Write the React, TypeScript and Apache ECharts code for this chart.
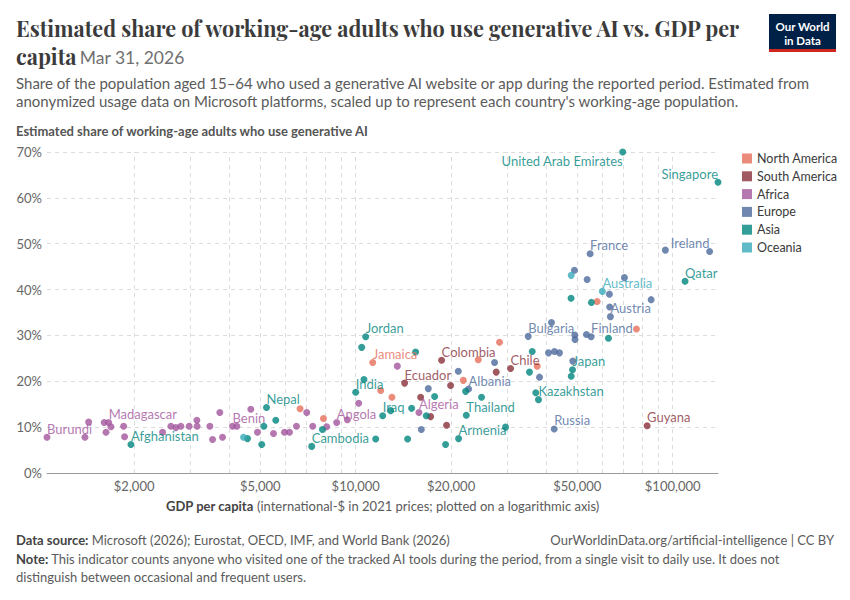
import React, { useEffect, useRef } from "react";
import * as echarts from "echarts";

// ---------- data ----------
const continents = ["North America", "South America", "Africa", "Europe", "Asia", "Oceania"];
const continentColors = ["#E56E5A", "#883039", "#A2559C", "#4C6A9C", "#00847E", "#38AABA"];

const northAmericaNames = ["", "", "Jamaica", "", "", "", "", "", "", "", ""];
const northAmericaGdp = [6675, 7911, 11314, 11990, 13015, 21849, 24361, 28429, 37379, 57779, 76850];
const northAmericaShare = [14.0, 11.9, 24.1, 18.0, 16.5, 20.2, 24.7, 28.5, 23.3, 37.4, 31.4];

const southAmericaNames = ["Ecuador", "", "", "Colombia", "", "", "", "Chile", "Guyana"];
const southAmericaGdp = [14268, 16029, 17236, 18664, 19355, 19925, 27760, 30800, 83060];
const southAmericaShare = [19.6, 16.5, 12.3, 24.6, 10.4, 19.1, 22.0, 22.8, 10.3];

const africaNames = [
  "Burundi", "", "", "", "Madagascar", "", "", "", "", "", "", "", "", "", "", "", "", "",
  "", "", "Benin", "", "", "", "", "", "", "", "", "", "", "Angola", "", "", "", "Algeria",
];
const africaGdp = [
  1062, 1399, 1437, 1609, 1662, 1630, 1690, 1853, 1866, 2459, 2612, 2708, 2809, 2983, 3155, 3160, 3467, 3535,
  3727, 3801, 4088, 4217, 4668, 4899, 5504, 5962, 6183, 6504, 7007, 7319, 8100, 8712, 9415, 10220, 13533, 15831,
];
const africaShare = [
  7.8, 7.8, 11.1, 11.0, 11.0, 8.9, 10.1, 10.2, 7.9, 8.9, 10.2, 9.9, 10.2, 10.2, 11.5, 10.2, 10.2, 7.3,
  13.2, 7.8, 10.2, 10.2, 13.9, 8.9, 8.6, 8.9, 8.9, 10.2, 13.2, 10.2, 10.1, 11.0, 11.6, 15.2, 23.3, 13.2,
];

const europeNames = [
  "", "", "", "Albania", "", "Bulgaria", "", "", "", "", "", "Russia", "", "", "", "", "", "Finland",
  "", "France", "", "", "Austria", "", "", "", "Ireland",
];
const europeGdp = [
  16110, 16946, 21071, 22709, 27424, 35014, 38013, 40582, 42384, 43946, 41471, 42300, 48407, 49110, 49200,
  49000, 53456, 55300, 53725, 54902, 63160, 63300, 63620, 70440, 85510, 94840, 130800,
];
const europeShare = [
  9.5, 18.4, 22.2, 18.3, 24.1, 29.8, 20.9, 26.2, 26.5, 26.2, 32.8, 9.6, 24.4, 30.1, 29.1,
  44.2, 30.2, 29.7, 42.2, 47.8, 39.0, 36.2, 34.1, 42.6, 37.8, 48.6, 48.3,
];

const asiaNames = [
  "Afghanistan", "", "", "", "Nepal", "", "Cambodia", "", "India", "", "", "Jordan", "", "Iraq", "", "", "", "",
  "", "", "", "Armenia", "", "Thailand", "", "", "", "", "", "Kazakhstan", "Japan", "", "", "", "", "Qatar",
  "United Arab Emirates", "Singapore",
];
const asiaGdp = [
  1954, 4557, 5054, 5130, 5231, 5596, 7266, 7855, 10000, 10621, 10445, 10752, 11563, 12167, 12893, 14583, 15012,
  15453, 16702, 17743, 19212, 21115, 22222, 22336, 24950, 29696, 35344, 36061, 37001, 37733, 48306, 47853, 47800,
  55420, 62706, 109420, 69552, 139010,
];
const asiaShare = [
  6.2, 7.5, 6.2, 10.2, 14.3, 11.5, 5.8, 9.5, 17.6, 20.4, 27.4, 29.7, 7.4, 12.5, 13.6, 7.4, 14.1,
  26.4, 12.5, 16.7, 6.2, 7.5, 17.8, 12.6, 16.5, 10.0, 22.0, 26.5, 17.5, 16.0, 22.5, 21.1, 38.1,
  37.2, 29.4, 41.8, 70.0, 63.4,
];

const oceaniaNames = ["", "", "Australia"];
const oceaniaGdp = [4427, 47853, 60020];
const oceaniaShare = [7.8, 43.1, 39.6];

const xGridValues = [
  2000, 3000, 4000, 5000, 6000, 7000, 8000, 9000, 10000, 20000, 30000, 40000, 50000, 60000, 70000, 80000, 90000, 100000,
];
const xTickLabels = [2000, 5000, 10000, 20000, 50000, 100000];
const yTicks = [0, 10, 20, 30, 40, 50, 60, 70];

// label placement per labelled country (styling only)
const labelPlacement: Record<string, "tr" | "tl" | "bl"> = {
  Ireland: "tl",
  Singapore: "tl",
  "United Arab Emirates": "bl",
};

const groups = [
  { names: northAmericaNames, gdp: northAmericaGdp, share: northAmericaShare },
  { names: southAmericaNames, gdp: southAmericaGdp, share: southAmericaShare },
  { names: africaNames, gdp: africaGdp, share: africaShare },
  { names: europeNames, gdp: europeGdp, share: europeShare },
  { names: asiaNames, gdp: asiaGdp, share: asiaShare },
  { names: oceaniaNames, gdp: oceaniaGdp, share: oceaniaShare },
];

const FONT = "Lato, 'Noto Sans', sans-serif";
const SERIF = "'Playfair Display', 'Liberation Serif', 'DejaVu Serif', serif";

function fmtMoney(v: number) {
  return "$" + v.toLocaleString("en-US");
}

function pointLabel(name: string, color: string) {
  if (!name) return { show: false };
  const p = labelPlacement[name] || "tr";
  return {
    show: true,
    formatter: name,
    position: "inside",
    align: p === "tr" ? "left" : "right",
    verticalAlign: "middle",
    offset: [0, p === "bl" ? 9 : -8.5],
    color,
    fontSize: 13,
    fontFamily: FONT,
    textBorderWidth: 0,
  };
}

export default function App() {
  const ref = useRef<HTMLDivElement>(null);

  useEffect(() => {
    if (!ref.current) return;
    const chart = echarts.init(ref.current, null, { renderer: "svg" });

    const allGdp = groups.flatMap((g) => g.gdp);
    const xMin = Math.min(...allGdp);
    const xMax = Math.max(...allGdp);

    const scatterSeries = groups.map((g, gi) => ({
      type: "scatter",
      name: continents[gi],
      z: 2,
      symbolSize: 7,
      clip: false,
      itemStyle: { color: continentColors[gi], opacity: 0.8 },
      emphasis: { disabled: true },
      silent: true,
      data: g.gdp.map((v, i) => ({
        value: [v, g.share[i]],
        name: g.names[i],
        label: pointLabel(g.names[i], continentColors[gi]),
      })),
    }));

    const gridSeries = {
      type: "scatter",
      name: "__grid",
      data: [],
      silent: true,
      markLine: {
        silent: true,
        z: 1,
        symbol: ["none", "none"],
        animation: false,
        lineStyle: { color: "#dcdcdc", type: [4, 4], width: 1 },
        data: xGridValues.map((v) => ({
          xAxis: v,
          label: xTickLabels.includes(v)
            ? {
                show: true,
                position: "start",
                distance: 6,
                formatter: fmtMoney(v),
                color: "#666",
                fontSize: 13,
                fontFamily: FONT,
              }
            : { show: false },
        })),
      },
    };

    chart.setOption({
      animation: false,
      grid: { left: 47, right: 132, top: 152, bottom: 127 },
      legend: {
        orient: "vertical",
        left: 737,
        top: 147,
        itemWidth: 10,
        itemHeight: 10,
        itemGap: 4.8,
        icon: "rect",
        selectedMode: false,
        itemStyle: { opacity: 0.8 },
        textStyle: { fontSize: 12.5, color: "#3a3a3a", fontFamily: FONT },
        data: continents,
      },
      xAxis: {
        type: "log",
        logBase: 10,
        min: xMin,
        max: xMax,
        axisLine: { show: true, lineStyle: { color: "#9a9a9a" } },
        axisTick: { show: false },
        axisLabel: { show: false },
        splitLine: { show: false },
        name: "{b|GDP per capita} (international-$ in 2021 prices; plotted on a logarithmic axis)",
        nameLocation: "middle",
        nameGap: 26,
        nameTextStyle: {
          fontSize: 13,
          color: "#5b5b5b",
          fontFamily: FONT,
          rich: { b: { fontSize: 13, fontWeight: "bold", color: "#444", fontFamily: FONT } },
        },
      },
      yAxis: {
        type: "value",
        min: yTicks[0],
        max: yTicks[yTicks.length - 1],
        interval: 10,
        axisLine: { show: false },
        axisTick: { show: false },
        axisLabel: { formatter: "{value}%", color: "#666", fontSize: 13, fontFamily: FONT, margin: 5 },
        splitLine: { show: true, lineStyle: { color: "#dcdcdc", type: [4, 4] } },
      },
      graphic: [
        {
          type: "text",
          x: 16,
          y: 28,
          style: {
            text: "Estimated share of working-age adults who use generative AI vs. GDP per",
            fontSize: 21.6,
            fontWeight: "bold",
            fontFamily: SERIF,
            fill: "#3b3b3b",
            verticalAlign: "middle",
          },
        },
        {
          type: "text",
          x: 16,
          y: 56,
          style: {
            text: "{t|capita} {d|Mar 31, 2026}",
            verticalAlign: "middle",
            rich: {
              t: { fontSize: 21.6, fontWeight: "bold", fontFamily: SERIF, fill: "#3b3b3b" },
              d: { fontSize: 17.5, fontFamily: FONT, fill: "#707070", padding: [3, 0, 0, 0] },
            },
          },
        },
        {
          type: "text",
          x: 16,
          y: 83,
          style: {
            text: "Share of the population aged 15–64 who used a generative AI website or app during the reported period. Estimated from",
            fontSize: 15,
            fontFamily: FONT,
            fill: "#5b5b5b",
            verticalAlign: "middle",
          },
        },
        {
          type: "text",
          x: 16,
          y: 101,
          style: {
            text: "anonymized usage data on Microsoft platforms, scaled up to represent each country's working-age population.",
            fontSize: 15,
            fontFamily: FONT,
            fill: "#5b5b5b",
            verticalAlign: "middle",
          },
        },
        {
          type: "text",
          x: 16,
          y: 131,
          style: {
            text: "Estimated share of working-age adults who use generative AI",
            fontSize: 13,
            fontWeight: "bold",
            fontFamily: FONT,
            fill: "#555",
            verticalAlign: "middle",
          },
        },
        // logo
        { type: "rect", shape: { x: 769, y: 14, width: 67, height: 38 }, style: { fill: "#002147" } },
        { type: "rect", shape: { x: 769, y: 49, width: 67, height: 3 }, style: { fill: "#ce261e" } },
        {
          type: "text",
          x: 802.5,
          y: 26,
          style: { text: "Our World", fontSize: 11.5, fontWeight: "bold", fontFamily: FONT, fill: "#fff", align: "center", verticalAlign: "middle" },
        },
        {
          type: "text",
          x: 802.5,
          y: 40,
          style: { text: "in Data", fontSize: 11.5, fontWeight: "bold", fontFamily: FONT, fill: "#fff", align: "center", verticalAlign: "middle" },
        },
        // footer
        {
          type: "text",
          x: 16,
          y: 540,
          style: {
            text: "{b|Data source:} Microsoft (2026); Eurostat, OECD, IMF, and World Bank (2026)",
            fontSize: 13,
            fontFamily: FONT,
            fill: "#5b5b5b",
            verticalAlign: "middle",
            rich: { b: { fontSize: 13, fontWeight: "bold", fontFamily: FONT, fill: "#444" } },
          },
        },
        {
          type: "text",
          x: 834,
          y: 540,
          style: {
            text: "OurWorldinData.org/artificial-intelligence | CC BY",
            fontSize: 13,
            fontFamily: FONT,
            fill: "#5b5b5b",
            align: "right",
            verticalAlign: "middle",
          },
        },
        {
          type: "text",
          x: 16,
          y: 559,
          style: {
            text: "{b|Note:} This indicator counts anyone who visited one of the tracked AI tools during the period, from a single visit to daily use. It does not",
            fontSize: 13,
            fontFamily: FONT,
            fill: "#5b5b5b",
            verticalAlign: "middle",
            rich: { b: { fontSize: 13, fontWeight: "bold", fontFamily: FONT, fill: "#444" } },
          },
        },
        {
          type: "text",
          x: 16,
          y: 577,
          style: {
            text: "distinguish between occasional and frequent users.",
            fontSize: 13,
            fontFamily: FONT,
            fill: "#5b5b5b",
            verticalAlign: "middle",
          },
        },
      ],
      series: [gridSeries, ...scatterSeries],
    });

    return () => chart.dispose();
  }, []);

  return (
    <div
      ref={ref}
      style={{ position: "fixed", left: 0, top: 0, width: 850, height: 600, background: "#fff" }}
    />
  );
}
